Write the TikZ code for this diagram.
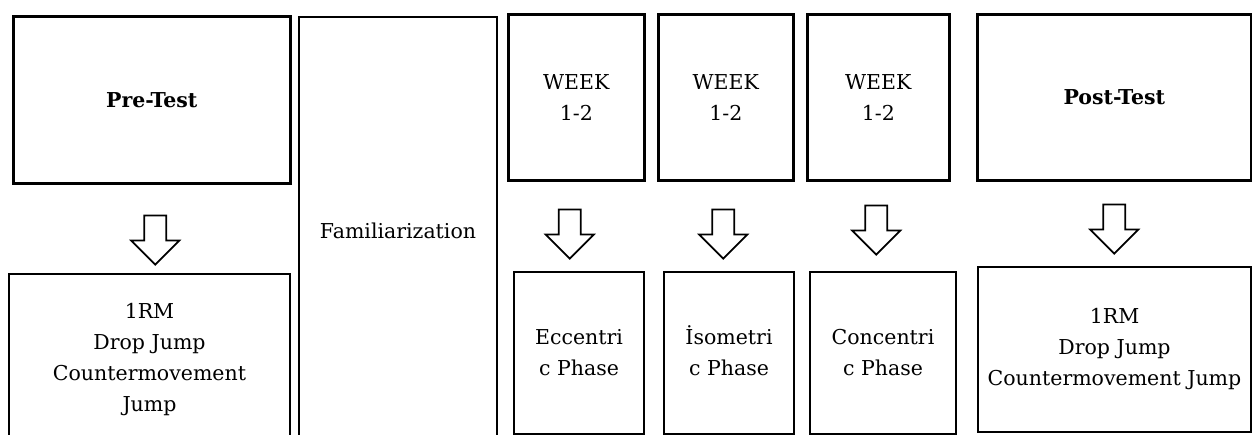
\documentclass[tikz,border=0pt]{standalone}
\usepackage{fontspec}
\setmainfont{DejaVu Serif}
\begin{document}
\begin{tikzpicture}[x=1pt,y=-1pt,
  box/.style={draw,line width=2.6pt,align=center,inner sep=0pt,anchor=north west,text=black,font=\fontsize{20.5}{31}\selectfont},
  lowbox/.style={box,line width=2pt},
  pics/downarrow/.style={code={\draw[line width=1.8pt,miter limit=20] (-11,0)--(11,0)--(11,25)--(24,25)--(0,49)--(-24,25)--(-11,25)--cycle;}}]
\useasboundingbox (0,0) rectangle (1252,435);
\clip (0,0) rectangle (1252,435);
\node[box,minimum width=277pt,minimum height=167pt] (pre) at (12,15){\textbf{Pre-Test}};
\node[lowbox,minimum width=281pt,minimum height=172pt] (prelow) at (8,273){1RM\\Drop Jump\\Countermovement\\Jump};
\node[lowbox,minimum width=198pt,minimum height=428pt] (fam) at (298,16){Familiarization};
\node[box,minimum width=136pt,minimum height=166pt] (wk1) at (507,13){WEEK\\1-2};
\node[box,minimum width=135pt,minimum height=166pt] (wk2) at (657,13){WEEK\\1-2};
\node[box,minimum width=142pt,minimum height=166pt] (wk3) at (806,13){WEEK\\1-2};
\node[box,minimum width=274pt,minimum height=166pt] (post) at (976,13){\textbf{Post-Test}};
\node[lowbox,minimum width=130pt,minimum height=162pt] (ecc) at (513,271){Eccentri\\c Phase};
\node[lowbox,minimum width=130pt,minimum height=162pt] (iso) at (663,271){\smash{İ}sometri\\c Phase};
\node[lowbox,minimum width=146pt,minimum height=162pt] (con) at (809,271){Concentri\\c Phase};
\node[lowbox,minimum width=273pt,minimum height=165pt] (postlow) at (977,266){1RM\\Drop Jump\\Countermovement Jump};
\path (pre.south) ++(3.5,31) pic {downarrow};
\path (wk1.south) ++(-6.5,28) pic {downarrow};
\path (wk2.south) ++(-2.5,28) pic {downarrow};
\path (wk3.south) ++(-2,24) pic {downarrow};
\path (post.south) ++(0,23) pic {downarrow};
\end{tikzpicture}
\end{document}
